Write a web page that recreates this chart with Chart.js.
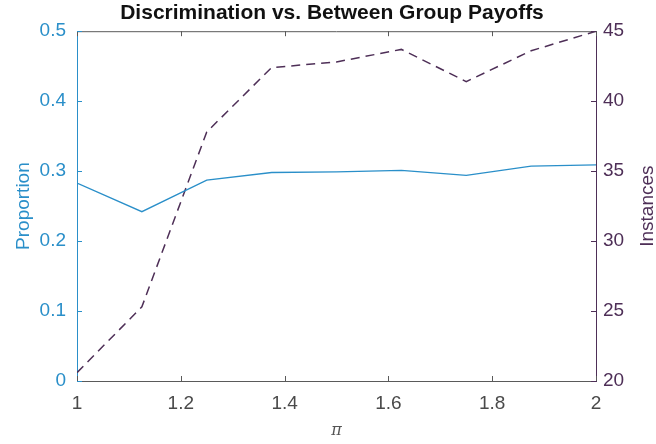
<!DOCTYPE html>
<html>
<head>
<meta charset="utf-8">
<script src="https://cdn.jsdelivr.net/npm/chart.js@4"></script>
<style>
    html, body { margin: 0; padding: 0; background: #fff; }
    #wrap { width: 656px; height: 444px; }
</style>
</head>
<body>
<div id="wrap"><canvas id="payoffChart" width="656" height="444"></canvas></div>
<script>
const PI_VALUES = [1, 1.125, 1.25, 1.375, 1.5, 1.625, 1.75, 1.875, 2];
const PROPORTION = [0.283, 0.242, 0.287, 0.298, 0.299, 0.301, 0.294, 0.307, 0.309];
const INSTANCES = [20.6, 25.3, 37.8, 42.4, 42.8, 43.7, 41.4, 43.6, 45];
const X_TICKS = [1, 1.2, 1.4, 1.6, 1.8, 2];

const COLORS = {
    blue: "#2a8fc9",
    purple: "#4e2f57",
    axis: "#5a5a5a",
    text: "#4a4a4a"
};
const FONT = "'Liberation Sans', Arial, sans-serif";
const TICK_SIZE = 19;

const toPoints = (ys) => PI_VALUES.map((x, i) => ({ x, y: ys[i] }));

// MATLAB style box with inward ticks, plus the right label read bottom-to-top
const boxPlugin = {
    id: "matlabBox",
    afterDraw(chart) {
        const { ctx, chartArea: a, scales } = chart;
        const len = 5;
        ctx.save();
        ctx.lineWidth = 1;
        ctx.strokeStyle = COLORS.axis;
        ctx.beginPath();
        ctx.moveTo(a.left, a.top + 0.5);
        ctx.lineTo(a.right, a.top + 0.5);
        scales.x.ticks.forEach((t) => {
            const px = Math.round(scales.x.getPixelForValue(t.value)) + 0.5;
            ctx.moveTo(px, a.bottom); ctx.lineTo(px, a.bottom - len);
            ctx.moveTo(px, a.top); ctx.lineTo(px, a.top + len);
        });
        ctx.stroke();
        ctx.strokeStyle = COLORS.blue;
        ctx.beginPath();
        scales.y.ticks.forEach((t) => {
            const py = Math.round(scales.y.getPixelForValue(t.value)) + 0.5;
            ctx.moveTo(a.left, py); ctx.lineTo(a.left + len, py);
        });
        ctx.stroke();
        ctx.strokeStyle = COLORS.purple;
        ctx.beginPath();
        scales.y1.ticks.forEach((t) => {
            const py = Math.round(scales.y1.getPixelForValue(t.value)) + 0.5;
            ctx.moveTo(a.right, py); ctx.lineTo(a.right - len, py);
        });
        ctx.stroke();

        ctx.translate(scales.y1.right - 8, (a.top + a.bottom) / 2);
        ctx.rotate(-Math.PI / 2);
        ctx.fillStyle = COLORS.purple;
        ctx.font = `${TICK_SIZE}px ${FONT}`;
        ctx.textAlign = "center";
        ctx.textBaseline = "middle";
        ctx.fillText("Instances", 0, 0);
        ctx.restore();
    }
};

new Chart(document.getElementById("payoffChart"), {
    type: "line",
    data: {
        datasets: [
            { label: "Proportion", data: toPoints(PROPORTION), yAxisID: "y", borderColor: COLORS.blue, borderWidth: 1.3, pointRadius: 0, tension: 0 },
            { label: "Instances", data: toPoints(INSTANCES), yAxisID: "y1", borderColor: COLORS.purple, borderWidth: 1.5, borderDash: [9, 6], pointRadius: 0, tension: 0 }
        ]
    },
    options: {
        responsive: false,
        animation: false,
        layout: { padding: { left: 8, right: 0, top: 0, bottom: 0 } },
        plugins: {
            legend: { display: false },
            tooltip: { enabled: false },
            title: {
                display: true,
                text: "Discrimination vs. Between Group Payoffs",
                color: "#111",
                font: { family: FONT, size: 21, weight: "bold" },
                padding: { top: 1, bottom: 5 }
            }
        },
        scales: {
            x: {
                type: "linear",
                min: 1, max: 2,
                afterBuildTicks: (s) => { s.ticks = X_TICKS.map((v) => ({ value: v })); },
                afterFit: (s) => { s.height = 63; },
                grid: { drawOnChartArea: false, drawTicks: false },
                border: { color: COLORS.axis, width: 1 },
                ticks: { color: COLORS.text, padding: 11, font: { family: FONT, size: TICK_SIZE }, callback: (v) => String(v) },
                title: { display: true, text: "π", color: "#555", font: { family: "'DejaVu Serif', serif", size: 16, style: "italic" }, padding: { top: 13 } }
            },
            y: {
                position: "left",
                min: 0, max: 0.5,
                afterFit: (s) => { s.width = 69; },
                grid: { drawOnChartArea: false, drawTicks: false },
                border: { color: COLORS.blue, width: 1 },
                ticks: { stepSize: 0.1, color: COLORS.blue, padding: 11, font: { family: FONT, size: TICK_SIZE } },
                title: { display: true, text: "Proportion", color: COLORS.blue, font: { family: FONT, size: TICK_SIZE }, padding: { bottom: 2 } }
            },
            y1: {
                position: "right",
                min: 20, max: 45,
                afterFit: (s) => { s.width = 60; },
                grid: { drawOnChartArea: false, drawTicks: false },
                border: { color: COLORS.purple, width: 1 },
                ticks: { stepSize: 5, color: COLORS.purple, padding: 7, font: { family: FONT, size: TICK_SIZE } }
            }
        }
    },
    plugins: [boxPlugin]
});
</script>
</body>
</html>
